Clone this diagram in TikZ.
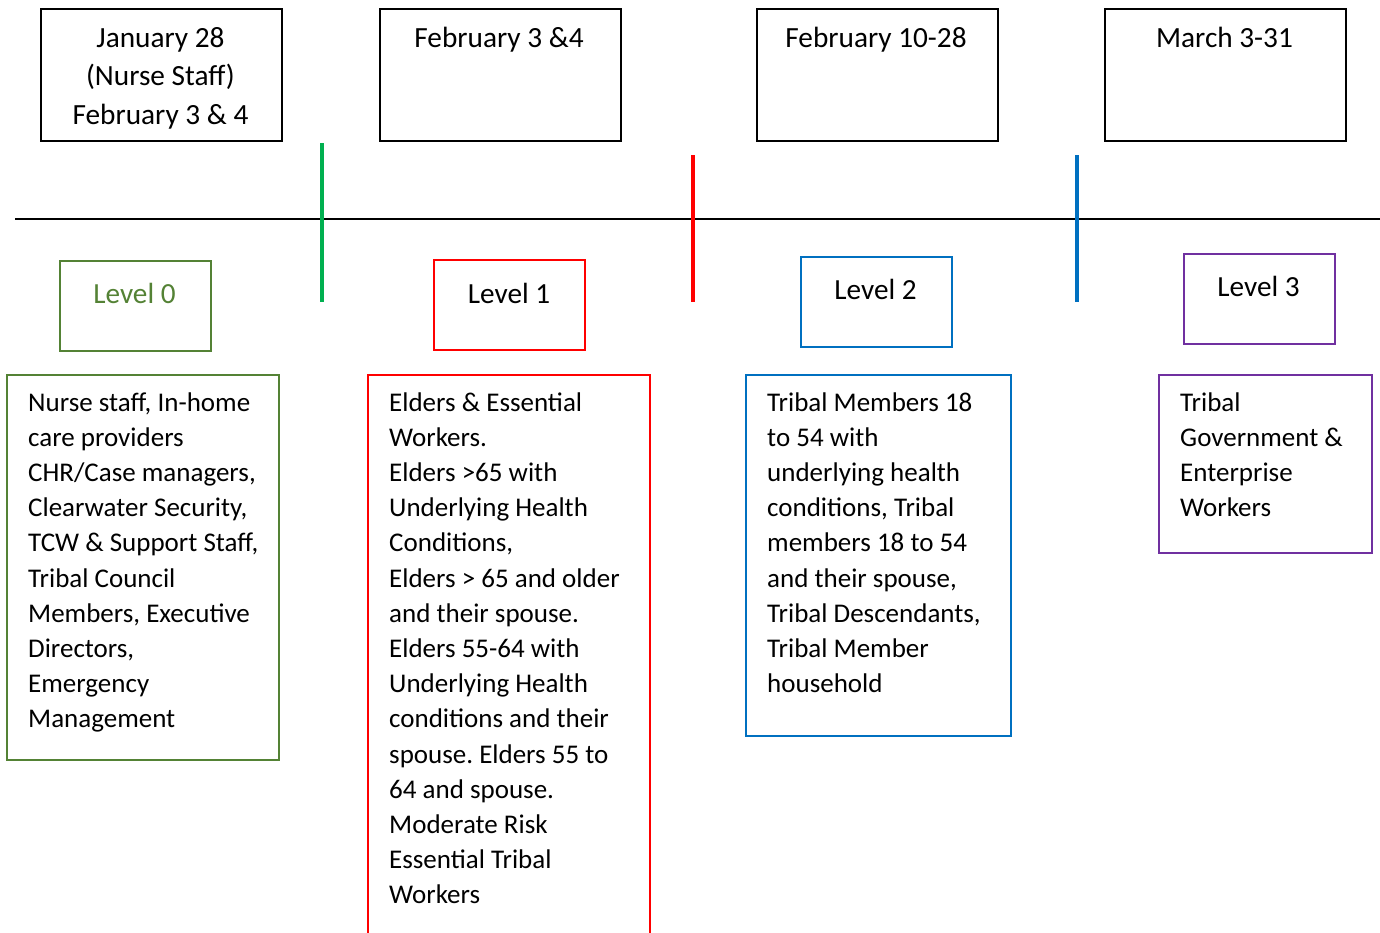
\documentclass[tikz,border=0pt]{standalone}
\usepackage{fontspec}
\setmainfont{Carlito}
\usetikzlibrary{positioning}
\definecolor{tickgreen}{HTML}{00B050}
\definecolor{lvlgreen}{HTML}{548235}
\definecolor{lvlred}{HTML}{FF0000}
\definecolor{lvlblue}{HTML}{0070C0}
\definecolor{lvlpurple}{HTML}{7030A0}
\frenchspacing

\begin{document}
\begin{tikzpicture}
	[x=1pt, y=-1pt,
	 datebox/.style={draw=black, line width=1.8pt, anchor=north west, inner sep=0pt,
	   minimum width=241pt, minimum height=132pt},
	 datetext/.style={anchor=base, align=center, inner sep=0pt,
	   font=\fontsize{29.3}{38.5}\selectfont},
	 lvlbox/.style={draw=#1, line width=2.2pt, anchor=north west, inner sep=0pt,
	   minimum width=151pt, minimum height=90pt},
	 lvltext/.style={anchor=base, inner sep=0pt, font=\fontsize{29.2}{35.2}\selectfont},
	 groupbox/.style={draw=#1, line width=2.2pt},
	 grouptext/.style={anchor=base west, align=left, inner sep=0pt,
	   font=\fontsize{27}{35.2}\selectfont},
	 tick/.style={draw=#1, line width=4.5pt}]
   \clip (0,0) rectangle (1380,932);
   % dates (text nodes sit on their last baseline)
   \node[datebox] (d_0) at (40,8) {};
   \node[datebox] (d_1) at (379,8) {};
   \node[datebox] (d_2) at (756,8) {};
   \node[datebox] (d_3) at (1104,8) {};
   \node[datetext] (dt_0) at (160.5,124) {January 28\\(Nurse Staff)\\February 3 \& 4};
   \node[datetext] (dt_1) at (499,47) {February 3 \&4};
   \node[datetext] (dt_2) at (876,47) {February 10-28};
   \node[datetext] (dt_3) at (1224.5,47) {March 3-31};
   % time line
   \coordinate (line_l) at (15,219);
   \coordinate (line_r) at (1380,219);
   \draw[line width=1.2pt] (line_l) -- (line_r);
   \coordinate (g_top) at (322,143);  \coordinate (g_bot) at (322,302);
   \coordinate (r_top) at (693,155);  \coordinate (r_bot) at (693,302);
   \coordinate (b_top) at (1077,155); \coordinate (b_bot) at (1077,302);
   \path (g_top) edge[tick=tickgreen] (g_bot)
         (r_top) edge[tick=lvlred] (r_bot)
         (b_top) edge[tick=lvlblue] (b_bot);
   % levels
   \node[lvlbox=lvlgreen] (l_0) at (59,260) {};
   \node[lvlbox=lvlred] (l_1) at (433,259) {};
   \node[lvlbox=lvlblue] (l_2) at (800,256) {};
   \node[lvlbox=lvlpurple] (l_3) at (1183,253) {};
   \node[lvltext, text=lvlgreen] (lt_0) at (134.5,303) {Level 0};
   \node[lvltext] (lt_1) at (509,303) {Level 1};
   \node[lvltext] (lt_2) at (875.5,299) {Level 2};
   \node[lvltext] (lt_3) at (1258.5,296) {Level 3};
   % groups
   \draw[groupbox=lvlgreen] (7,375) rectangle (279,760);
   \draw[groupbox=lvlred] (368,375) rectangle (650,960);
   \draw[groupbox=lvlblue] (746,375) rectangle (1011,736);
   \draw[groupbox=lvlpurple] (1159,375) rectangle (1372,553);
   \node[grouptext] (g_0) at (28,727.8) {Nurse staff, In-home\\care providers\\CHR/Case managers,\\Clearwater Security,\\TCW \& Support Staff,\\Tribal Council\\Members, Executive\\Directors,\\Emergency\\Management};
   \node[grouptext] (g_1) at (389,903.8) {Elders \& Essential\\Workers.\\Elders >65 with\\Underlying Health\\Conditions,\\Elders > 65 and older\\and their spouse.\\Elders 55-64 with\\Underlying Health\\conditions and their\\spouse. Elders 55 to\\64 and spouse.\\Moderate Risk\\Essential Tribal\\Workers};
   \node[grouptext] (g_2) at (767,692.6) {Tribal Members 18\\to 54 with\\underlying health\\conditions, Tribal\\members 18 to 54\\and their spouse,\\Tribal Descendants,\\Tribal Member\\household};
   \node[grouptext] (g_3) at (1180,516.6) {Tribal\\Government \&\\Enterprise\\Workers};
\end{tikzpicture}
\end{document}
